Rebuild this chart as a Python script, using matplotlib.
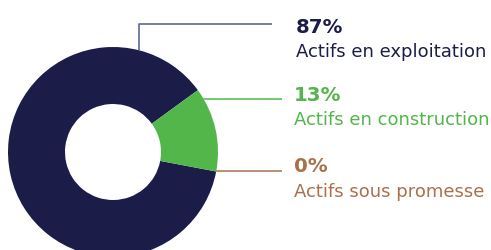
import numpy as np
import matplotlib
matplotlib.use("Agg")
import matplotlib.pyplot as plt

# data
labels = ["Actifs en exploitation", "Actifs en construction", "Actifs sous promesse"]
values = [87, 13, 0]
pct_labels = ["87%", "13%", "0%"]

colors = ["#1b1d48", "#53b64b", "#a9714b"]
line_colors = ["#5e6a94", "#5fc059", "#b07a5e"]

W, H = 491, 251
fig = plt.figure(figsize=(W / 100, H / 100), dpi=100)
ax = fig.add_axes([0, 0, 1, 1])

cx, cy, r = 113, H - 153, 105
ax.pie(values, colors=colors, radius=r, center=(cx, cy), startangle=-10.7,
       counterclock=False, wedgeprops=dict(width=57, linewidth=0))
ax.set_xlim(0, W)
ax.set_ylim(0, H)
ax.set_aspect("equal")
ax.axis("off")

# leader lines: anchor angle on ring edge, elbow height (px from top), end x
anchor_deg = [75.4, 31.4, -10.7]
line_y = [24.7, 100, 172]
line_end = [272, 282, 282]
for ang, ly, xe, lc in zip(anchor_deg, line_y, line_end, line_colors):
    a = np.radians(ang)
    x0, y0 = cx + r * np.cos(a), cy + r * np.sin(a)
    yl = H - ly
    if abs(y0 - yl) > 3:
        ax.plot([x0, x0, xe], [y0, yl, yl], color=lc, lw=1.2, solid_capstyle="butt")
    else:
        ax.plot([x0, xe], [yl, yl], color=lc, lw=1.2, solid_capstyle="butt")

# text blocks
text_x = [296, 294, 294]
pct_base = [33, 101, 172]
lab_base = [57, 125, 197]
for tx, pb, lb, p, lab, c in zip(text_x, pct_base, lab_base, pct_labels, labels, colors):
    ax.text(tx, H - pb, p, color=c, fontsize=14.2, fontweight="bold", va="baseline", ha="left")
    ax.text(tx, H - lb, lab, color=c, fontsize=13, va="baseline", ha="left")

fig.savefig("out.png", dpi=100)
